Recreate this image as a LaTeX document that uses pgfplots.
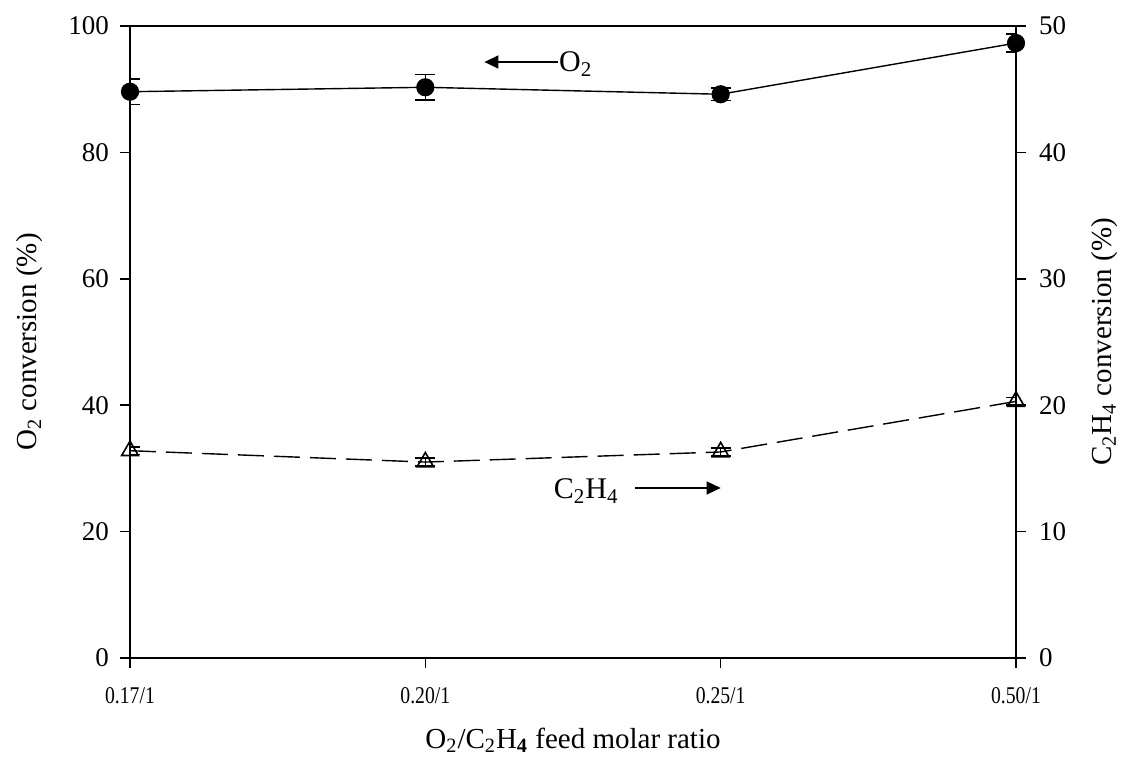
\documentclass[border=0pt]{standalone}
\usepackage{fontspec}
\setmainfont{Liberation Serif}
\usepackage{pgfplots}
\pgfplotsset{compat=1.18}
\usetikzlibrary{arrows.meta}
\pgfplotstableread{
x y e
0 89.6 2.0
1 90.3 2.0
2 89.2 1.0
3 97.3 1.4
}\otwo
\pgfplotstableread{
x y e
0 16.4 0.3
1 15.5 0.3
2 16.3 0.3
3 20.3 0.3
}\ethyl
\begin{document}
\begin{tikzpicture}
\useasboundingbox (-65pt,-53pt) rectangle (497pt,329pt);
\begin{axis}[
 at={(0,0)}, anchor=south west,
 scale only axis, width=443pt, height=316pt,
 xmin=0, xmax=3, ymin=0, ymax=100,
 xtick={0,1,2,3}, xticklabels={0.17/1,0.20/1,0.25/1,0.50/1},
 ytick={0,20,...,100},
 xtick pos=bottom, ytick pos=left, tick align=outside,
 major tick length=5pt,
 axis line style={line width=0.8pt},
 every tick/.style={black, line width=0.8pt},
 /pgf/number format/assume math mode=true,
 yticklabel style={font=\fontsize{13.5}{15}\selectfont, xshift=-2pt},
 xticklabel style={font=\fontsize{12}{14}\selectfont, yshift=-6pt, xscale=0.82},
 every axis y label/.style={at={(axis description cs:-0.113,0.5)}, rotate=90, anchor=center},
 every axis x label/.style={at={(axis description cs:0.5,-0.13)}, anchor=center},
 ylabel={\fontsize{14.5}{16}\selectfont O\textsubscript{2} conversion (\%)},
 xlabel={\fontsize{14.5}{16}\selectfont O\textsubscript{2}/C\textsubscript{2}H\textsubscript{\textbf{4}} feed molar ratio},
]
\addplot[black, line width=0.7pt, mark=*, mark size=4.2pt,
  error bars/.cd, y dir=both, y explicit,
  error bar style={line width=0.8pt},
  error mark options={rotate=90, mark size=5pt, line width=0.8pt}]
  table[x=x, y=y, y error=e] {\otwo};
\draw[line width=0.8pt, -{Triangle[length=7pt,width=6.5pt]}] (axis cs:1.45,94.3) -- (axis cs:1.20,94.3);
\node[anchor=west, font=\fontsize{15}{17}\selectfont, inner sep=1pt] at (axis cs:1.445,94.0) {O\textsubscript{2}};
\node[anchor=center, font=\fontsize{15}{17}\selectfont] at (axis cs:1.545,26.4) {C\textsubscript{2}H\textsubscript{4}};
\draw[line width=0.8pt, -{Triangle[length=7pt,width=6.5pt]}] (axis cs:1.71,26.9) -- (axis cs:2.0,26.9);
\end{axis}
\begin{axis}[
 at={(0,0)}, anchor=south west,
 scale only axis, width=443pt, height=316pt,
 xmin=0, xmax=3, ymin=0, ymax=50,
 axis x line=none, axis y line*=right,
 ytick={0,10,...,50},
 tick align=outside, major tick length=5pt,
 axis line style={line width=0.8pt},
 every tick/.style={black, line width=0.8pt},
 /pgf/number format/assume math mode=true,
 yticklabel style={font=\fontsize{13.5}{15}\selectfont, xshift=3pt},
 every axis y label/.style={at={(axis description cs:1.10,0.5)}, rotate=90, anchor=center},
 ylabel={\fontsize{14.5}{16}\selectfont C\textsubscript{2}H\textsubscript{4} conversion (\%)},
]
\addplot[black, line width=0.7pt, dash pattern=on 13pt off 5pt, mark=triangle, mark size=4.8pt,
  mark options={solid, fill=white, line width=0.8pt},
  error bars/.cd, y dir=both, y explicit,
  error bar style={line width=0.8pt, solid},
  error mark options={rotate=90, mark size=5pt, line width=0.8pt, solid}]
  table[x=x, y=y, y error=e] {\ethyl};
\end{axis}
\end{tikzpicture}
\end{document}
